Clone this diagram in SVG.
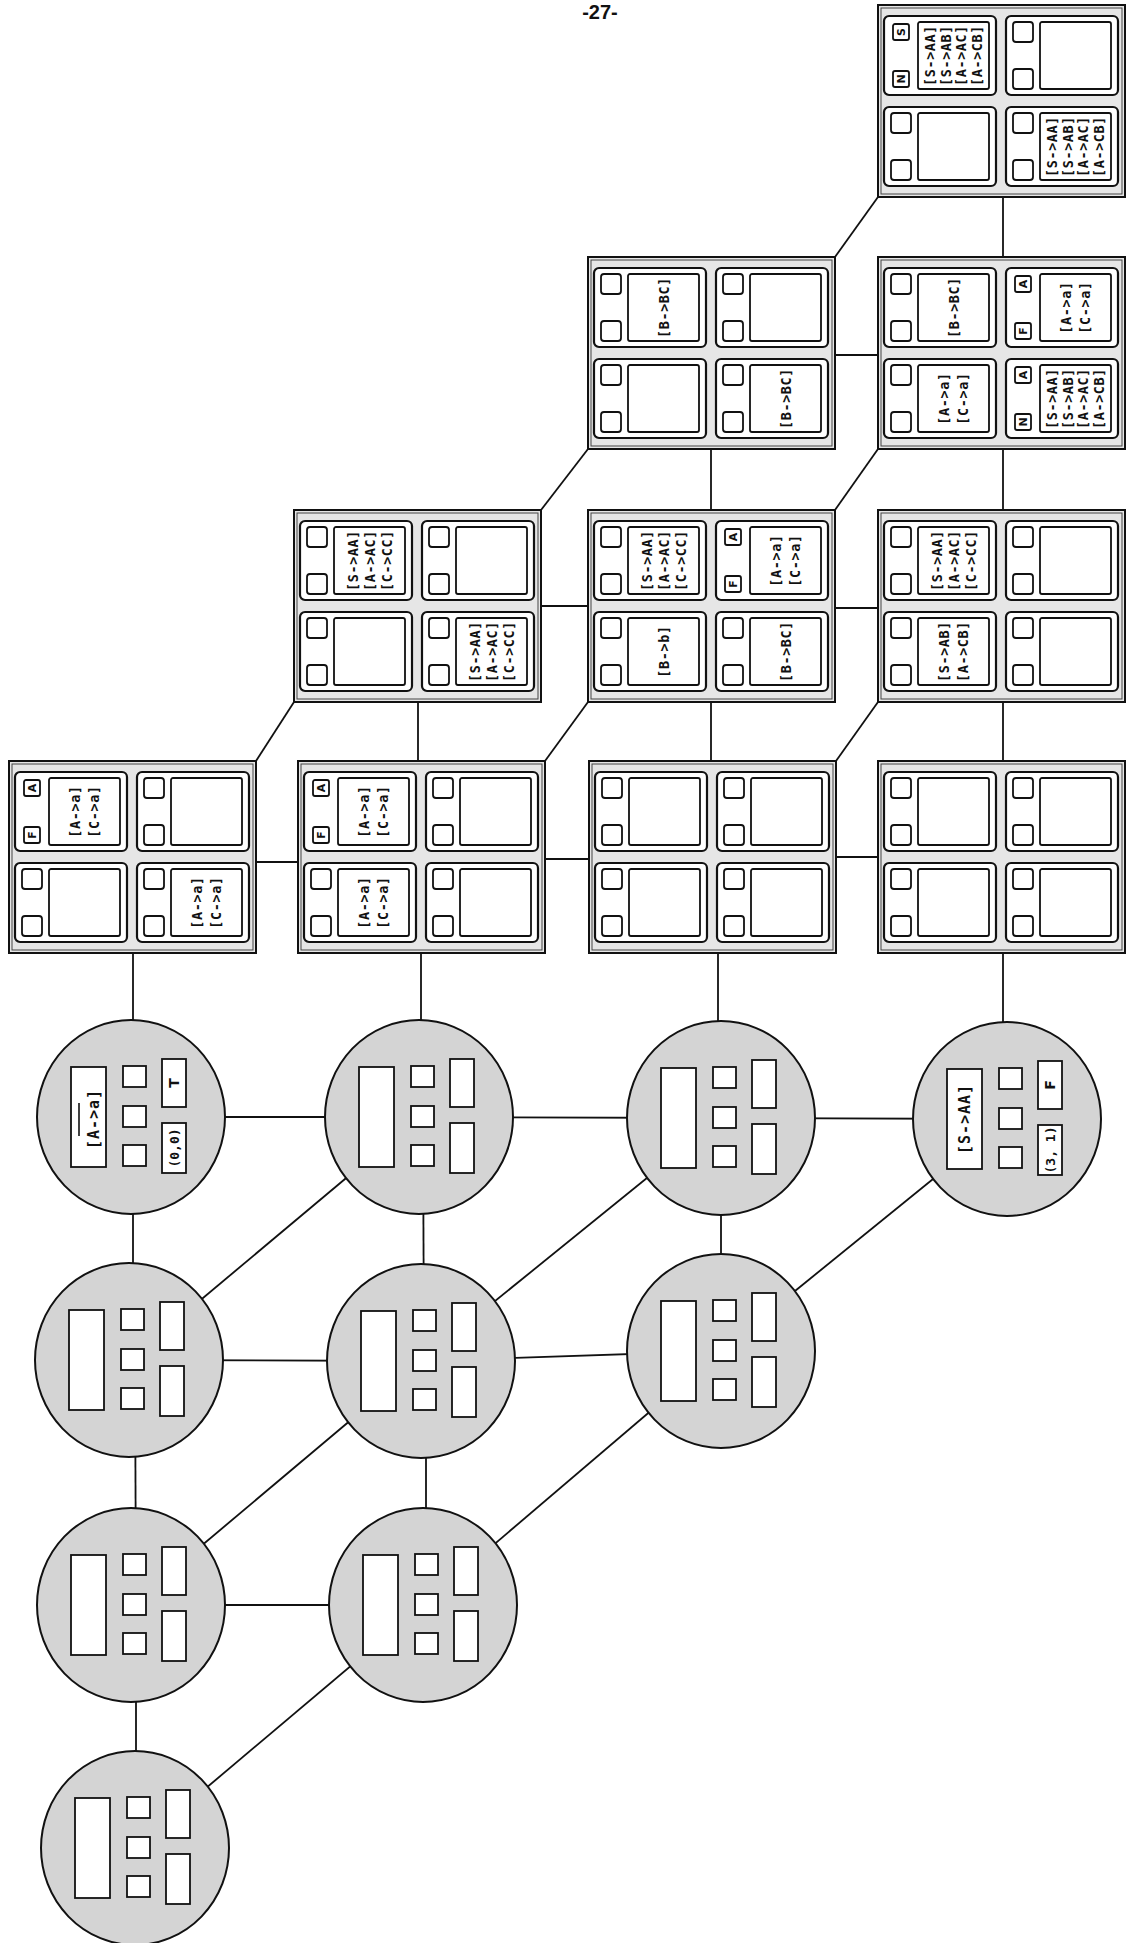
<svg xmlns="http://www.w3.org/2000/svg" xmlns:xlink="http://www.w3.org/1999/xlink" width="1126" height="1943" viewBox="0 0 1126 1943">
<style>
.frame{fill:#e6e6e6;stroke:#111;stroke-width:2}
.frameIn{fill:none;stroke:#444;stroke-width:1}
.cell{fill:#fff;stroke:#111;stroke-width:2.2}
.sq{fill:#fff;stroke:#111;stroke-width:1.8}
.box{fill:#fff;stroke:#111;stroke-width:1.8}
.ell{fill:#d4d4d4;stroke:#111;stroke-width:2}
.conn line{stroke:#111;stroke-width:1.8}
.t{font-family:"DejaVu Sans Mono","Liberation Mono",monospace;font-weight:bold;font-size:13.5px;letter-spacing:0.6px;text-anchor:middle;dominant-baseline:central;fill:#111}
.te{font-family:"DejaVu Sans Mono","Liberation Mono",monospace;font-weight:bold;font-size:15px;letter-spacing:1px;text-anchor:middle;dominant-baseline:central;fill:#111}
.ts{font-family:"DejaVu Sans Mono","Liberation Mono",monospace;font-weight:bold;font-size:13px;text-anchor:middle;dominant-baseline:central;fill:#111}
.lt{font-family:"DejaVu Sans","Liberation Sans",sans-serif;font-weight:bold;font-size:11px;text-anchor:middle;dominant-baseline:central;fill:#111}
.page{font-family:"Liberation Sans",Arial,sans-serif;font-weight:bold;font-size:20px;text-anchor:middle;fill:#111}
</style>
<defs>
<g id="frame"><rect class="frame" x="0" y="0" width="247" height="192"/><rect class="frameIn" x="3" y="3" width="241" height="186"/></g>
<g id="cp"><rect class="cell" width="112" height="79" rx="5"/><rect class="sq" x="7" y="6" width="20" height="20" rx="3"/><rect class="sq" x="7" y="53" width="20" height="20" rx="3"/><rect class="box" x="34" y="6" width="71" height="67" rx="2"/></g>
<g id="cl"><rect class="cell" width="112" height="79" rx="5"/><rect class="sq" x="9" y="8" width="16" height="16" rx="2"/><rect class="sq" x="9" y="55" width="16" height="16" rx="2"/><rect class="box" x="34" y="6" width="71" height="67" rx="2"/></g>
<g id="ein"><ellipse class="ell" rx="94" ry="97"/><rect class="box" x="-60" y="-50" width="35" height="100"/><rect class="sq" x="-8" y="-51" width="23" height="21"/><rect class="sq" x="-8" y="-11" width="23" height="21"/><rect class="sq" x="-8" y="28" width="23" height="21"/><rect class="box" x="31" y="-58" width="24" height="48"/><rect class="box" x="31" y="6" width="24" height="50"/></g>
</defs>
<rect width="1126" height="1943" fill="#fff"/>
<text class="page" x="600" y="19">-27-</text>

<g id="connectors" class="conn">
<line x1="1003" y1="197" x2="1003" y2="257"/>
<line x1="711" y1="449" x2="711" y2="510"/>
<line x1="1003" y1="449" x2="1003" y2="510"/>
<line x1="418" y1="702" x2="418" y2="761"/>
<line x1="711" y1="702" x2="711" y2="761"/>
<line x1="1003" y1="702" x2="1003" y2="761"/>
<line x1="878" y1="197" x2="835" y2="257"/>
<line x1="588" y1="449" x2="541" y2="510"/>
<line x1="878" y1="449" x2="835" y2="510"/>
<line x1="294" y1="702" x2="256" y2="761"/>
<line x1="588" y1="702" x2="545" y2="761"/>
<line x1="878" y1="702" x2="836" y2="761"/>
<line x1="835" y1="355" x2="878" y2="355"/>
<line x1="541" y1="606" x2="588" y2="606"/>
<line x1="835" y1="608" x2="878" y2="608"/>
<line x1="256" y1="862" x2="298" y2="862"/>
<line x1="545" y1="859" x2="589" y2="859"/>
<line x1="836" y1="857" x2="878" y2="857"/>
<line x1="133" y1="953" x2="133" y2="1060"/>
<line x1="421" y1="953" x2="421" y2="1060"/>
<line x1="718" y1="953" x2="718" y2="1060"/>
<line x1="1003" y1="953" x2="1003" y2="1060"/>
<line x1="131" y1="1117" x2="419" y2="1117"/>
<line x1="419" y1="1117" x2="721" y2="1118"/>
<line x1="721" y1="1118" x2="1007" y2="1119"/>
<line x1="129" y1="1360" x2="421" y2="1361"/>
<line x1="421" y1="1361" x2="721" y2="1351"/>
<line x1="131" y1="1605" x2="423" y2="1605"/>
<line x1="133" y1="1117" x2="133" y2="1360"/>
<line x1="423" y1="1117" x2="424" y2="1361"/>
<line x1="721" y1="1118" x2="721" y2="1351"/>
<line x1="135" y1="1360" x2="136" y2="1605"/>
<line x1="426" y1="1361" x2="426" y2="1605"/>
<line x1="136" y1="1605" x2="136" y2="1848"/>
<line x1="129" y1="1360" x2="419" y2="1117"/>
<line x1="421" y1="1361" x2="721" y2="1118"/>
<line x1="721" y1="1351" x2="1007" y2="1119"/>
<line x1="131" y1="1605" x2="421" y2="1361"/>
<line x1="423" y1="1605" x2="721" y2="1351"/>
<line x1="135" y1="1848" x2="423" y2="1605"/>
</g>

<g id="n-r1c4" transform="translate(878,5)">
<use xlink:href="#frame"/>
<g transform="translate(6,11)"><use xlink:href="#cl"/><text class="lt" transform="translate(17,16) rotate(-90)">S</text><text class="lt" transform="translate(17,63) rotate(-90)">N</text>
<g transform="translate(69.5,39.5) rotate(-90)"><text class="t" y="-23.25">[S->AA]</text><text class="t" y="-7.75">[S->AB]</text><text class="t" y="7.75">[A->AC]</text><text class="t" y="23.25">[A->CB]</text></g></g>
<g transform="translate(128,11)"><use xlink:href="#cp"/></g>
<g transform="translate(6,102)"><use xlink:href="#cp"/></g>
<g transform="translate(128,102)"><use xlink:href="#cp"/>
<g transform="translate(69.5,39.5) rotate(-90)"><text class="t" y="-23.25">[S->AA]</text><text class="t" y="-7.75">[S->AB]</text><text class="t" y="7.75">[A->AC]</text><text class="t" y="23.25">[A->CB]</text></g></g>
</g>

<g id="n-r2c3" transform="translate(588,257)">
<use xlink:href="#frame"/>
<g transform="translate(6,11)"><use xlink:href="#cp"/><g transform="translate(69.5,39.5) rotate(-90)"><text class="t">[B->BC]</text></g></g>
<g transform="translate(128,11)"><use xlink:href="#cp"/></g>
<g transform="translate(6,102)"><use xlink:href="#cp"/></g>
<g transform="translate(128,102)"><use xlink:href="#cp"/><g transform="translate(69.5,39.5) rotate(-90)"><text class="t">[B->BC]</text></g></g>
</g>

<g id="n-r2c4" transform="translate(878,257)">
<use xlink:href="#frame"/>
<g transform="translate(6,11)"><use xlink:href="#cp"/><g transform="translate(69.5,39.5) rotate(-90)"><text class="t">[B->BC]</text></g></g>
<g transform="translate(128,11)"><use xlink:href="#cl"/><text class="lt" transform="translate(17,16) rotate(-90)">A</text><text class="lt" transform="translate(17,63) rotate(-90)">F</text>
<g transform="translate(69.5,39.5) rotate(-90)"><text class="t" y="-9.5">[A->a]</text><text class="t" y="9.5">[C->a]</text></g></g>
<g transform="translate(6,102)"><use xlink:href="#cp"/><g transform="translate(69.5,39.5) rotate(-90)"><text class="t" y="-9.5">[A->a]</text><text class="t" y="9.5">[C->a]</text></g></g>
<g transform="translate(128,102)"><use xlink:href="#cl"/><text class="lt" transform="translate(17,16) rotate(-90)">A</text><text class="lt" transform="translate(17,63) rotate(-90)">N</text>
<g transform="translate(69.5,39.5) rotate(-90)"><text class="t" y="-23.25">[S->AA]</text><text class="t" y="-7.75">[S->AB]</text><text class="t" y="7.75">[A->AC]</text><text class="t" y="23.25">[A->CB]</text></g></g>
</g>

<g id="n-r3c2" transform="translate(294,510)">
<use xlink:href="#frame"/>
<g transform="translate(6,11)"><use xlink:href="#cp"/><g transform="translate(69.5,39.5) rotate(-90)"><text class="t" y="-17">[S->AA]</text><text class="t">[A->AC]</text><text class="t" y="17">[C->CC]</text></g></g>
<g transform="translate(128,11)"><use xlink:href="#cp"/></g>
<g transform="translate(6,102)"><use xlink:href="#cp"/></g>
<g transform="translate(128,102)"><use xlink:href="#cp"/><g transform="translate(69.5,39.5) rotate(-90)"><text class="t" y="-17">[S->AA]</text><text class="t">[A->AC]</text><text class="t" y="17">[C->CC]</text></g></g>
</g>

<g id="n-r3c3" transform="translate(588,510)">
<use xlink:href="#frame"/>
<g transform="translate(6,11)"><use xlink:href="#cp"/><g transform="translate(69.5,39.5) rotate(-90)"><text class="t" y="-17">[S->AA]</text><text class="t">[A->AC]</text><text class="t" y="17">[C->CC]</text></g></g>
<g transform="translate(128,11)"><use xlink:href="#cl"/><text class="lt" transform="translate(17,16) rotate(-90)">A</text><text class="lt" transform="translate(17,63) rotate(-90)">F</text>
<g transform="translate(69.5,39.5) rotate(-90)"><text class="t" y="-9.5">[A->a]</text><text class="t" y="9.5">[C->a]</text></g></g>
<g transform="translate(6,102)"><use xlink:href="#cp"/><g transform="translate(69.5,39.5) rotate(-90)"><text class="t">[B->b]</text></g></g>
<g transform="translate(128,102)"><use xlink:href="#cp"/><g transform="translate(69.5,39.5) rotate(-90)"><text class="t">[B->BC]</text></g></g>
</g>

<g id="n-r3c4" transform="translate(878,510)">
<use xlink:href="#frame"/>
<g transform="translate(6,11)"><use xlink:href="#cp"/><g transform="translate(69.5,39.5) rotate(-90)"><text class="t" y="-17">[S->AA]</text><text class="t">[A->AC]</text><text class="t" y="17">[C->CC]</text></g></g>
<g transform="translate(128,11)"><use xlink:href="#cp"/></g>
<g transform="translate(6,102)"><use xlink:href="#cp"/><g transform="translate(69.5,39.5) rotate(-90)"><text class="t" y="-9.5">[S->AB]</text><text class="t" y="9.5">[A->CB]</text></g></g>
<g transform="translate(128,102)"><use xlink:href="#cp"/></g>
</g>

<g id="n-r4c1" transform="translate(9,761)">
<use xlink:href="#frame"/>
<g transform="translate(6,11)"><use xlink:href="#cl"/><text class="lt" transform="translate(17,16) rotate(-90)">A</text><text class="lt" transform="translate(17,63) rotate(-90)">F</text>
<g transform="translate(69.5,39.5) rotate(-90)"><text class="t" y="-9.5">[A->a]</text><text class="t" y="9.5">[C->a]</text></g></g>
<g transform="translate(128,11)"><use xlink:href="#cp"/></g>
<g transform="translate(6,102)"><use xlink:href="#cp"/></g>
<g transform="translate(128,102)"><use xlink:href="#cp"/><g transform="translate(69.5,39.5) rotate(-90)"><text class="t" y="-9.5">[A->a]</text><text class="t" y="9.5">[C->a]</text></g></g>
</g>

<g id="n-r4c2" transform="translate(298,761)">
<use xlink:href="#frame"/>
<g transform="translate(6,11)"><use xlink:href="#cl"/><text class="lt" transform="translate(17,16) rotate(-90)">A</text><text class="lt" transform="translate(17,63) rotate(-90)">F</text>
<g transform="translate(69.5,39.5) rotate(-90)"><text class="t" y="-9.5">[A->a]</text><text class="t" y="9.5">[C->a]</text></g></g>
<g transform="translate(128,11)"><use xlink:href="#cp"/></g>
<g transform="translate(6,102)"><use xlink:href="#cp"/><g transform="translate(69.5,39.5) rotate(-90)"><text class="t" y="-9.5">[A->a]</text><text class="t" y="9.5">[C->a]</text></g></g>
<g transform="translate(128,102)"><use xlink:href="#cp"/></g>
</g>

<g id="n-r4c3" transform="translate(589,761)">
<use xlink:href="#frame"/>
<g transform="translate(6,11)"><use xlink:href="#cp"/></g>
<g transform="translate(128,11)"><use xlink:href="#cp"/></g>
<g transform="translate(6,102)"><use xlink:href="#cp"/></g>
<g transform="translate(128,102)"><use xlink:href="#cp"/></g>
</g>

<g id="n-r4c4" transform="translate(878,761)">
<use xlink:href="#frame"/>
<g transform="translate(6,11)"><use xlink:href="#cp"/></g>
<g transform="translate(128,11)"><use xlink:href="#cp"/></g>
<g transform="translate(6,102)"><use xlink:href="#cp"/></g>
<g transform="translate(128,102)"><use xlink:href="#cp"/></g>
</g>

<g id="e-r1c1" transform="translate(131,1117)">
<use xlink:href="#ein"/>
<g transform="translate(-37,2) rotate(-90)"><text class="te">[A->a]</text></g>
<line x1="-52" y1="-14" x2="-52" y2="19" stroke="#111" stroke-width="1.6"/>
<g transform="translate(43,-34) rotate(-90)"><text class="lt" style="font-size:14px">T</text></g>
<g transform="translate(43,31) rotate(-90)"><text class="ts">(0,0)</text></g>
</g>
<g id="e-r1c2" transform="translate(419,1117)"><use xlink:href="#ein"/></g>
<g id="e-r1c3" transform="translate(721,1118)"><use xlink:href="#ein"/></g>
<g id="e-r1c4" transform="translate(1007,1119)">
<use xlink:href="#ein"/>
<g transform="translate(-42,0) rotate(-90)"><text class="te">[S->AA]</text></g>
<g transform="translate(43,-34) rotate(-90)"><text class="lt" style="font-size:14px">F</text></g>
<g transform="translate(43,31) rotate(-90)"><text class="ts">(3, 1)</text></g>
</g>
<g id="e-r2c1" transform="translate(129,1360)"><use xlink:href="#ein"/></g>
<g id="e-r2c2" transform="translate(421,1361)"><use xlink:href="#ein"/></g>
<g id="e-r2c3" transform="translate(721,1351)"><use xlink:href="#ein"/></g>
<g id="e-r3c1" transform="translate(131,1605)"><use xlink:href="#ein"/></g>
<g id="e-r3c2" transform="translate(423,1605)"><use xlink:href="#ein"/></g>
<g id="e-r4c1" transform="translate(135,1848)"><use xlink:href="#ein"/></g>
</svg>
